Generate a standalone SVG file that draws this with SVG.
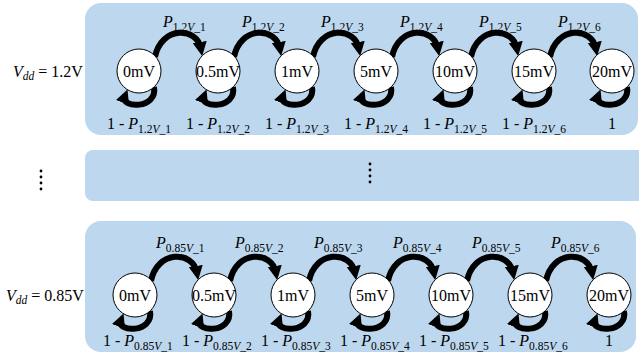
<svg xmlns="http://www.w3.org/2000/svg" width="639" height="356" viewBox="0 0 639 356">
<defs>
<style>
.panel{fill:#bdd7ee}
.node circle{fill:#fff;stroke:#000;stroke-width:1}
.node text{font-family:"Liberation Serif",serif;font-size:16px;text-anchor:middle;fill:#000}
.lbl{font-family:"Liberation Serif",serif;font-size:16px;fill:#000}
.it{font-style:italic}
.sub{font-size:11.5px}
.arc{fill:none;stroke:#000;stroke-width:6;marker-end:url(#ah)}
</style>
<marker id="ah" viewBox="0 0 10 10" refX="5" refY="5" markerWidth="14" markerHeight="14" markerUnits="userSpaceOnUse" orient="auto">
<path d="M0,0 L10,5 L0,10 Z" fill="#000"/>
</marker>
<g id="loop"><path class="arc" d="M15,16 C19,38 -19,38 -14,25"/></g>
<g id="hop"><path class="arc" d="M16,-14 C22,-45 58,-45 62,-22"/></g>
</defs>
<rect class="panel" x="85" y="3" width="553" height="132" rx="16"/>
<rect class="panel" x="85" y="150" width="570" height="51" rx="8"/>
<rect class="panel" x="85" y="221" width="551" height="131" rx="16"/>

<g id="dots" fill="#000">
<circle cx="41" cy="171" r="1.4"/><circle cx="41" cy="177" r="1.4"/><circle cx="41" cy="183" r="1.4"/><circle cx="41" cy="189" r="1.4"/>
<circle cx="370" cy="164" r="1.4"/><circle cx="370" cy="170" r="1.4"/><circle cx="370" cy="176" r="1.4"/><circle cx="370" cy="182" r="1.4"/>
</g>

<text class="lbl" x="13" y="77"><tspan class="it">V</tspan><tspan class="it sub" dy="3">dd</tspan><tspan dy="-3"> = 1.2V</tspan></text>
<text class="lbl" x="6" y="301"><tspan class="it">V</tspan><tspan class="it sub" dy="3">dd</tspan><tspan dy="-3"> = 0.85V</tspan></text>

<g id="connectors">
<use href="#hop" x="139" y="71"/><use href="#hop" x="218" y="71"/><use href="#hop" x="297" y="71"/><use href="#hop" x="376" y="71"/><use href="#hop" x="455" y="71"/><use href="#hop" x="534" y="71"/>
<use href="#loop" x="139" y="71"/><use href="#loop" x="218" y="71"/><use href="#loop" x="297" y="71"/><use href="#loop" x="376" y="71"/><use href="#loop" x="455" y="71"/><use href="#loop" x="534" y="71"/><use href="#loop" x="612" y="71"/>
<use href="#hop" x="135" y="295"/><use href="#hop" x="214" y="295"/><use href="#hop" x="293" y="295"/><use href="#hop" x="372" y="295"/><use href="#hop" x="451" y="295"/><use href="#hop" x="530" y="295"/>
<use href="#loop" x="135" y="295"/><use href="#loop" x="214" y="295"/><use href="#loop" x="293" y="295"/><use href="#loop" x="372" y="295"/><use href="#loop" x="451" y="295"/><use href="#loop" x="530" y="295"/><use href="#loop" x="609" y="295"/>
</g>

<g id="top-nodes">
<g id="t0" class="node"><circle cx="139" cy="71" r="22"/><text x="139" y="76.5">0mV</text></g>
<g id="t1" class="node"><circle cx="218" cy="71" r="22"/><text x="218" y="76.5">0.5mV</text></g>
<g id="t2" class="node"><circle cx="297" cy="71" r="22"/><text x="297" y="76.5">1mV</text></g>
<g id="t3" class="node"><circle cx="376" cy="71" r="22"/><text x="376" y="76.5">5mV</text></g>
<g id="t4" class="node"><circle cx="455" cy="71" r="22"/><text x="455" y="76.5">10mV</text></g>
<g id="t5" class="node"><circle cx="534" cy="71" r="22"/><text x="534" y="76.5">15mV</text></g>
<g id="t6" class="node"><circle cx="612" cy="71" r="22"/><text x="612" y="76.5">20mV</text></g>
</g>
<g id="bottom-nodes">
<g id="b0" class="node"><circle cx="135" cy="295" r="22"/><text x="135" y="300.5">0mV</text></g>
<g id="b1" class="node"><circle cx="214" cy="295" r="22"/><text x="214" y="300.5">0.5mV</text></g>
<g id="b2" class="node"><circle cx="293" cy="295" r="22"/><text x="293" y="300.5">1mV</text></g>
<g id="b3" class="node"><circle cx="372" cy="295" r="22"/><text x="372" y="300.5">5mV</text></g>
<g id="b4" class="node"><circle cx="451" cy="295" r="22"/><text x="451" y="300.5">10mV</text></g>
<g id="b5" class="node"><circle cx="530" cy="295" r="22"/><text x="530" y="300.5">15mV</text></g>
<g id="b6" class="node"><circle cx="609" cy="295" r="22"/><text x="609" y="300.5">20mV</text></g>
</g>

<g id="top-labels">
<text class="lbl" x="163" y="27"><tspan class="it">P</tspan><tspan class="sub" dy="4">1.2<tspan class="it">V</tspan>_1</tspan></text>
<text class="lbl" x="242" y="27"><tspan class="it">P</tspan><tspan class="sub" dy="4">1.2<tspan class="it">V</tspan>_2</tspan></text>
<text class="lbl" x="321" y="27"><tspan class="it">P</tspan><tspan class="sub" dy="4">1.2<tspan class="it">V</tspan>_3</tspan></text>
<text class="lbl" x="400" y="27"><tspan class="it">P</tspan><tspan class="sub" dy="4">1.2<tspan class="it">V</tspan>_4</tspan></text>
<text class="lbl" x="479" y="27"><tspan class="it">P</tspan><tspan class="sub" dy="4">1.2<tspan class="it">V</tspan>_5</tspan></text>
<text class="lbl" x="558" y="27"><tspan class="it">P</tspan><tspan class="sub" dy="4">1.2<tspan class="it">V</tspan>_6</tspan></text>
<text class="lbl" x="107" y="129">1 - <tspan class="it">P</tspan><tspan class="sub" dy="4">1.2<tspan class="it">V</tspan>_1</tspan></text>
<text class="lbl" x="186" y="129">1 - <tspan class="it">P</tspan><tspan class="sub" dy="4">1.2<tspan class="it">V</tspan>_2</tspan></text>
<text class="lbl" x="265" y="129">1 - <tspan class="it">P</tspan><tspan class="sub" dy="4">1.2<tspan class="it">V</tspan>_3</tspan></text>
<text class="lbl" x="344" y="129">1 - <tspan class="it">P</tspan><tspan class="sub" dy="4">1.2<tspan class="it">V</tspan>_4</tspan></text>
<text class="lbl" x="423" y="129">1 - <tspan class="it">P</tspan><tspan class="sub" dy="4">1.2<tspan class="it">V</tspan>_5</tspan></text>
<text class="lbl" x="502" y="129">1 - <tspan class="it">P</tspan><tspan class="sub" dy="4">1.2<tspan class="it">V</tspan>_6</tspan></text>
<text class="lbl" x="612" y="129" text-anchor="middle">1</text>
</g>
<g id="bottom-labels">
<text class="lbl" x="156" y="248"><tspan class="it">P</tspan><tspan class="sub" dy="4">0.85<tspan class="it">V</tspan>_1</tspan></text>
<text class="lbl" x="235" y="248"><tspan class="it">P</tspan><tspan class="sub" dy="4">0.85<tspan class="it">V</tspan>_2</tspan></text>
<text class="lbl" x="314" y="248"><tspan class="it">P</tspan><tspan class="sub" dy="4">0.85<tspan class="it">V</tspan>_3</tspan></text>
<text class="lbl" x="393" y="248"><tspan class="it">P</tspan><tspan class="sub" dy="4">0.85<tspan class="it">V</tspan>_4</tspan></text>
<text class="lbl" x="472" y="248"><tspan class="it">P</tspan><tspan class="sub" dy="4">0.85<tspan class="it">V</tspan>_5</tspan></text>
<text class="lbl" x="551" y="248"><tspan class="it">P</tspan><tspan class="sub" dy="4">0.85<tspan class="it">V</tspan>_6</tspan></text>
<text class="lbl" x="103" y="346">1 - <tspan class="it">P</tspan><tspan class="sub" dy="4">0.85<tspan class="it">V</tspan>_1</tspan></text>
<text class="lbl" x="182" y="346">1 - <tspan class="it">P</tspan><tspan class="sub" dy="4">0.85<tspan class="it">V</tspan>_2</tspan></text>
<text class="lbl" x="261" y="346">1 - <tspan class="it">P</tspan><tspan class="sub" dy="4">0.85<tspan class="it">V</tspan>_3</tspan></text>
<text class="lbl" x="340" y="346">1 - <tspan class="it">P</tspan><tspan class="sub" dy="4">0.85<tspan class="it">V</tspan>_4</tspan></text>
<text class="lbl" x="419" y="346">1 - <tspan class="it">P</tspan><tspan class="sub" dy="4">0.85<tspan class="it">V</tspan>_5</tspan></text>
<text class="lbl" x="498" y="346">1 - <tspan class="it">P</tspan><tspan class="sub" dy="4">0.85<tspan class="it">V</tspan>_6</tspan></text>
<text class="lbl" x="609" y="346" text-anchor="middle">1</text>
</g>
</svg>
